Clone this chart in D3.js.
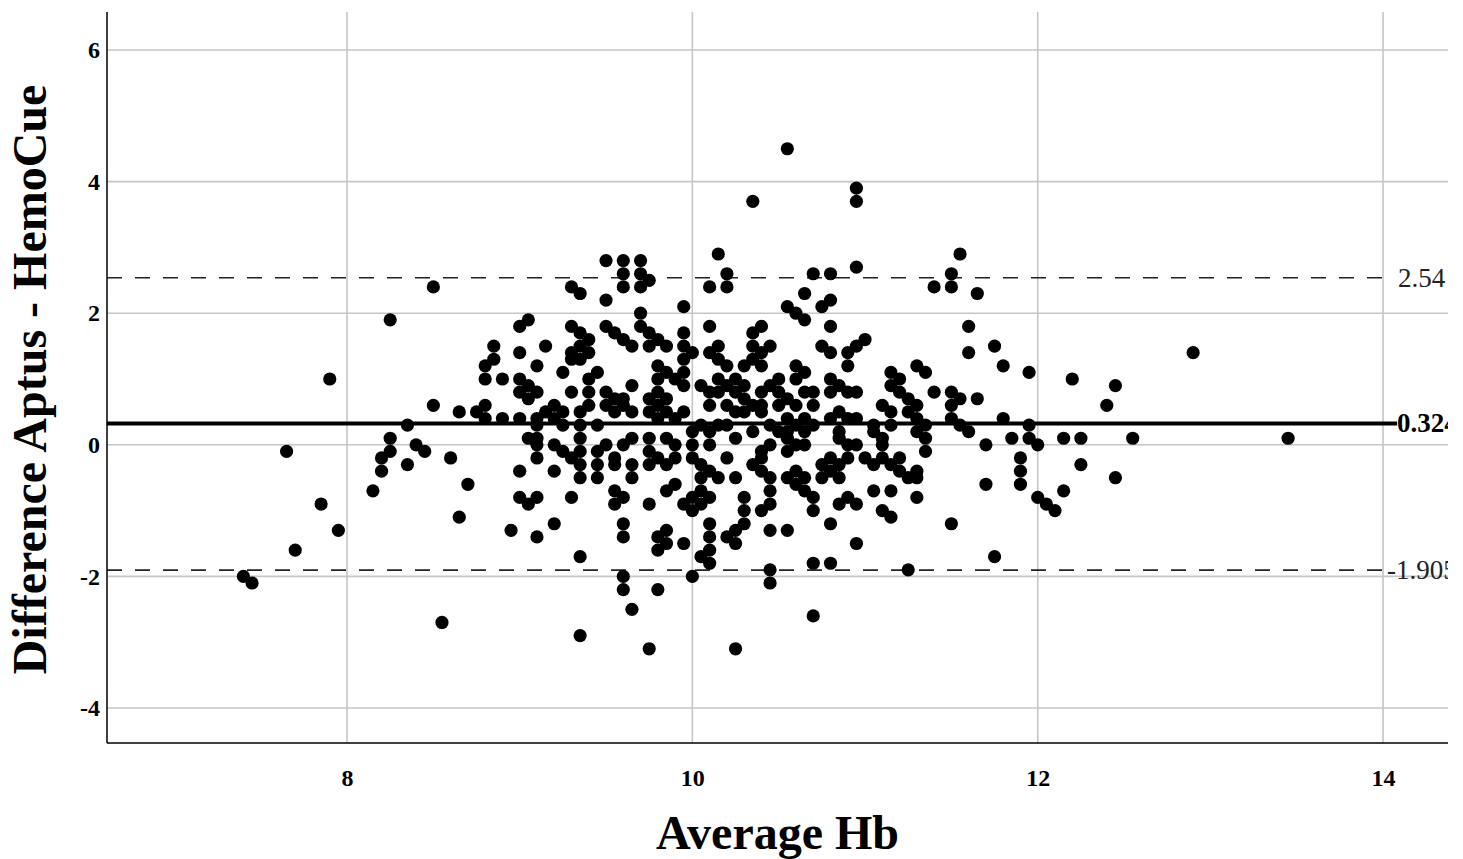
<!DOCTYPE html>
<html><head><meta charset="utf-8">
<script src="https://cdn.jsdelivr.net/npm/d3@7"></script>
<style>
html,body{margin:0;padding:0;background:#fff;}
svg text{font-family:"Liberation Serif","Times New Roman",serif;}
</style></head>
<body><svg id="chart" width="1463" height="859"></svg>
<script>
const xTicks = [8, 10, 12, 14];
const yTicks = [6, 4, 2, 0, -2, -4];
const meanDiff = 0.324;
const upperLoA = 2.54;
const lowerLoA = -1.905;
const limitLabels = ["2.54", "0.324", "-1.905"];
const xTitle = "Average Hb";
const yTitle = "Difference Aptus - HemoCue";
const points = [
[7.4,-2.0],[7.45,-2.1],[7.65,-0.1],[7.7,-1.6],[7.85,-0.9],[7.9,1.0],[7.95,-1.3],[8.15,-0.7],[8.2,-0.2],[8.2,-0.4],[8.25,1.9],[8.25,0.1],[8.25,-0.1],[8.35,0.3],[8.35,-0.3],[8.4,0.0],[8.45,-0.1],[8.5,2.4],[8.5,0.6],[8.55,-2.7],[8.6,-0.2],[8.65,0.5],[8.65,-1.1],[8.7,-0.6],[8.75,0.5],[8.8,0.6],[8.8,0.4],[8.8,1.2],[8.8,1.0],[8.85,1.5],[8.85,1.3],[8.9,1.0],[8.9,0.4],[8.95,-1.3],
[9.0,1.8],[9.0,1.4],[9.0,1.0],[9.0,0.8],[9.0,0.4],[9.0,-0.4],[9.0,-0.8],[9.05,1.9],[9.05,0.9],[9.05,0.7],[9.05,0.1],[9.05,-0.9],[9.1,1.2],[9.1,0.8],[9.1,0.4],[9.1,0.3],[9.1,0.1],[9.1,0.0],[9.1,-0.2],[9.1,-0.8],[9.1,-1.4],[9.15,1.5],[9.15,0.5],[9.2,0.6],[9.2,0.4],[9.2,0.0],[9.2,-0.4],[9.2,-1.2],[9.25,1.1],[9.25,0.5],[9.25,0.3],[9.25,-0.1],[9.3,2.4],[9.3,1.8],[9.3,1.4],[9.3,1.3],[9.3,0.8],[9.3,-0.2],[9.3,-0.8],[9.35,2.3],[9.35,1.7],[9.35,1.5],[9.35,1.3],[9.35,0.5],[9.35,0.3],[9.35,0.1],[9.35,-0.1],[9.35,-0.3],[9.35,-0.5],[9.35,-1.7],[9.35,-2.9],[9.4,1.6],[9.4,1.4],[9.4,1.0],[9.4,0.8],[9.4,0.6],[9.45,1.1],[9.45,0.3],[9.45,-0.1],[9.45,-0.3],[9.45,-0.5],[9.5,2.8],[9.5,2.2],[9.5,1.8],[9.5,0.8],[9.5,0.6],[9.5,0.0],[9.55,1.7],[9.55,0.7],[9.55,0.5],[9.55,-0.2],[9.55,-0.3],[9.55,-0.7],[9.55,-0.9],[9.6,2.8],[9.6,2.6],[9.6,2.4],[9.6,1.6],[9.6,0.7],[9.6,0.6],[9.6,0.0],[9.6,-0.8],[9.6,-1.2],[9.6,-1.4],[9.6,-2.0],[9.6,-2.2],
[9.65,1.5],[9.65,0.9],[9.65,0.5],[9.65,0.1],[9.65,-0.3],[9.65,-0.5],[9.65,-2.5],[9.7,2.8],[9.7,2.6],[9.7,2.4],[9.7,2.0],[9.7,1.8],[9.75,2.5],[9.75,1.7],[9.75,1.5],[9.75,0.7],[9.75,0.5],[9.75,0.1],[9.75,-0.1],[9.75,-0.3],[9.75,-0.9],[9.75,-3.1],[9.8,1.6],[9.8,1.2],[9.8,1.0],[9.8,0.8],[9.8,0.6],[9.8,0.4],[9.8,-0.2],[9.8,-1.4],[9.8,-1.6],[9.8,-2.2],[9.85,1.5],[9.85,1.1],[9.85,0.7],[9.85,0.5],[9.85,0.1],[9.85,-0.3],[9.85,-0.7],[9.85,-1.3],[9.85,-1.5],[9.9,1.0],[9.9,0.4],[9.9,0.0],[9.9,-0.2],[9.9,-0.6],[9.95,2.1],[9.95,1.7],[9.95,1.5],[9.95,1.3],[9.95,1.1],[9.95,0.9],[9.95,0.5],[9.95,-0.9],[9.95,-1.5],[10.0,1.4],[10.0,0.2],[10.0,0.0],[10.0,-0.2],[10.0,-0.8],[10.0,-1.0],[10.0,-2.0],
[10.05,0.9],[10.05,0.3],[10.05,-0.3],[10.05,-0.5],[10.05,-0.7],[10.05,-0.9],[10.05,-1.7],[10.1,2.4],[10.1,1.8],[10.1,1.4],[10.1,0.8],[10.1,0.6],[10.1,0.2],[10.1,0.0],[10.1,-0.4],[10.1,-0.8],[10.1,-1.2],[10.1,-1.4],[10.1,-1.6],[10.1,-1.8],[10.15,2.9],[10.15,1.5],[10.15,1.3],[10.15,1.0],[10.15,0.8],[10.15,0.3],[10.15,-0.5],[10.2,2.6],[10.2,2.4],[10.2,1.2],[10.2,0.9],[10.2,0.6],[10.2,0.3],[10.2,-0.2],[10.2,-1.4],[10.25,1.0],[10.25,0.8],[10.25,0.5],[10.25,0.1],[10.25,-0.5],[10.25,-1.3],[10.25,-1.5],[10.25,-3.1],[10.3,1.2],[10.3,0.9],[10.3,0.7],[10.3,0.5],[10.3,-0.8],[10.3,-1.0],[10.3,-1.2],[10.35,3.7],[10.35,1.7],[10.35,1.5],[10.35,1.3],[10.35,0.6],[10.35,0.2],[10.35,-0.3],[10.4,1.8],[10.4,1.4],[10.4,1.2],[10.4,0.8],[10.4,0.6],[10.4,0.5],[10.4,-0.1],[10.4,-0.2],[10.4,-0.4],[10.4,-1.0],[10.45,1.5],[10.45,0.9],[10.45,0.3],[10.45,0.0],[10.45,-0.5],[10.45,-0.7],[10.45,-0.9],[10.45,-1.3],[10.45,-1.9],[10.45,-2.1],
[10.5,1.0],[10.5,0.8],[10.5,0.6],[10.5,0.2],[10.55,4.5],[10.55,2.1],[10.55,0.7],[10.55,0.4],[10.55,0.2],[10.55,0.1],[10.55,-0.1],[10.55,-0.5],[10.55,-1.3],[10.6,2.0],[10.6,1.2],[10.6,1.0],[10.6,0.6],[10.6,0.3],[10.6,0.0],[10.6,-0.4],[10.6,-0.6],[10.65,2.3],[10.65,1.9],[10.65,1.1],[10.65,0.8],[10.65,0.4],[10.65,0.2],[10.65,0.0],[10.65,-0.5],[10.65,-0.7],[10.7,2.6],[10.7,0.8],[10.7,0.6],[10.7,0.3],[10.7,-0.8],[10.7,-1.0],[10.7,-1.8],[10.7,-2.6],[10.75,2.1],[10.75,1.5],[10.75,-0.3],[10.75,-0.5],[10.8,2.6],[10.8,2.2],[10.8,1.8],[10.8,1.4],[10.8,1.0],[10.8,0.8],[10.8,0.4],[10.8,-0.2],[10.8,-0.4],[10.8,-1.2],[10.8,-1.8],[10.85,0.9],[10.85,0.5],[10.85,0.2],[10.85,0.1],[10.85,-0.3],[10.85,-0.5],[10.85,-0.9],[10.9,1.4],[10.9,1.2],[10.9,0.8],[10.9,0.4],[10.9,0.0],[10.9,-0.2],[10.9,-0.8],[10.95,3.9],[10.95,3.7],[10.95,2.7],[10.95,1.5],[10.95,0.8],[10.95,0.4],[10.95,0.0],[10.95,-0.9],[10.95,-1.5],[11.0,1.6],[11.0,-0.2],
[11.05,0.3],[11.05,0.2],[11.05,-0.3],[11.05,-0.7],[11.1,0.6],[11.1,0.1],[11.1,0.0],[11.1,-0.2],[11.1,-1.0],[11.15,1.1],[11.15,0.9],[11.15,0.5],[11.15,0.3],[11.15,-0.3],[11.15,-0.7],[11.15,-1.1],[11.2,1.0],[11.2,0.8],[11.2,-0.2],[11.2,-0.4],[11.25,0.7],[11.25,0.5],[11.25,-0.5],[11.25,-1.9],[11.3,1.2],[11.3,0.6],[11.3,0.4],[11.3,0.2],[11.3,-0.4],[11.3,-0.5],[11.3,-0.8],[11.35,1.1],[11.35,0.3],[11.35,0.1],[11.35,-0.1],[11.4,2.4],[11.4,0.8],[11.5,2.6],[11.5,2.4],[11.5,0.8],[11.5,0.6],[11.5,0.4],[11.5,-1.2],[11.55,2.9],[11.55,0.7],[11.55,0.3],[11.6,1.8],[11.6,1.4],[11.6,0.2],[11.65,2.3],[11.65,0.7],[11.7,0.0],[11.7,-0.6],[11.75,1.5],[11.75,-1.7],[11.8,1.2],[11.8,0.4],[11.85,0.1],[11.9,-0.2],[11.9,-0.4],[11.9,-0.6],[11.95,1.1],[11.95,0.3],[11.95,0.1],[12.0,0.0],[12.0,-0.8],[12.05,-0.9],[12.1,-1.0],[12.15,0.1],[12.15,-0.7],[12.2,1.0],[12.25,0.1],[12.25,-0.3],[12.4,0.6],[12.45,0.9],[12.45,-0.5],[12.55,0.1],[12.9,1.4],[13.45,0.1]
];

const svg = d3.select("#chart");
const L = 107, R = 1448, T = 12, B = 743;
const x = d3.scaleLinear().domain([6.61, 14.376]).range([L, R]);
const y = d3.scaleLinear().domain([-4.532, 6.578]).range([B, T]);

svg.append("defs").append("clipPath").attr("id","plotclip")
  .append("rect").attr("x",L).attr("y",T).attr("width",R-L).attr("height",B-T);

const grid = svg.append("g");
grid.selectAll(".hg").data(yTicks).join("line")
  .attr("x1",L).attr("x2",R).attr("y1",d=>y(d)).attr("y2",d=>y(d))
  .attr("stroke","#c6c6c6").attr("stroke-width",1.6);
grid.selectAll(".vg").data(xTicks).join("line")
  .attr("y1",T).attr("y2",B).attr("x1",d=>x(d)).attr("x2",d=>x(d))
  .attr("stroke","#c6c6c6").attr("stroke-width",1.6);

// reference lines
const lineEnd = x(14);
svg.append("line").attr("x1",L).attr("x2",lineEnd).attr("y1",y(upperLoA)).attr("y2",y(upperLoA))
  .attr("stroke","#222").attr("stroke-width",1.6).attr("stroke-dasharray","15,13");
svg.append("line").attr("x1",L).attr("x2",lineEnd).attr("y1",y(lowerLoA)).attr("y2",y(lowerLoA))
  .attr("stroke","#222").attr("stroke-width",1.6).attr("stroke-dasharray","15,13");
svg.append("line").attr("x1",L).attr("x2",lineEnd+14).attr("y1",y(meanDiff)).attr("y2",y(meanDiff))
  .attr("stroke","#000").attr("stroke-width",4);

// points
svg.append("g").selectAll("circle").data(points).join("circle")
  .attr("cx",d=>x(d[0])).attr("cy",d=>y(d[1])).attr("r",6.6).attr("fill","#000");

// labels of reference lines
const lab = svg.append("g").attr("clip-path","url(#plotclip)");
lab.append("text").attr("x",lineEnd+15).attr("y",y(upperLoA)+9).attr("font-size",27)
  .attr("fill","#222").text(limitLabels[0]);
lab.append("text").attr("x",lineEnd+14).attr("y",y(meanDiff)+9).attr("font-size",27).attr("font-weight","bold")
  .attr("fill","#000").text(limitLabels[1]);
lab.append("text").attr("x",lineEnd+4).attr("y",y(lowerLoA)+9).attr("font-size",27)
  .attr("fill","#222").text(limitLabels[2]);

// axes
svg.append("line").attr("x1",L).attr("x2",L).attr("y1",T).attr("y2",B).attr("stroke","#000").attr("stroke-width",1.5);
svg.append("line").attr("x1",L).attr("x2",R).attr("y1",B).attr("y2",B).attr("stroke","#000").attr("stroke-width",1.5);

const fmt = d => String(d);
const xAxis = d3.axisBottom(x).tickValues(xTicks).tickSize(0).tickPadding(0).tickFormat(fmt);
const gx = svg.append("g").attr("transform",`translate(0,${B+26})`).call(xAxis);
gx.select(".domain").remove();
gx.selectAll("text").attr("font-size",24).attr("font-weight","bold").attr("fill","#000")
  .attr("font-family","Liberation Serif, serif");

const yAxis = d3.axisLeft(y).tickValues(yTicks).tickSize(0).tickPadding(0).tickFormat(fmt);
const gy = svg.append("g").attr("transform",`translate(${L-7},0)`).call(yAxis);
gy.select(".domain").remove();
gy.selectAll("text").attr("font-size",24).attr("font-weight","bold").attr("fill","#000")
  .attr("font-family","Liberation Serif, serif");

svg.append("text").attr("x",(L+R)/2).attr("y",849).attr("text-anchor","middle")
  .attr("font-size",48).attr("font-weight","bold").text(xTitle);
svg.append("text").attr("transform",`translate(46,${(T+B)/2 + 2}) rotate(-90)`).attr("text-anchor","middle")
  .attr("font-size",48).attr("font-weight","bold").text(yTitle);
</script></body></html>
